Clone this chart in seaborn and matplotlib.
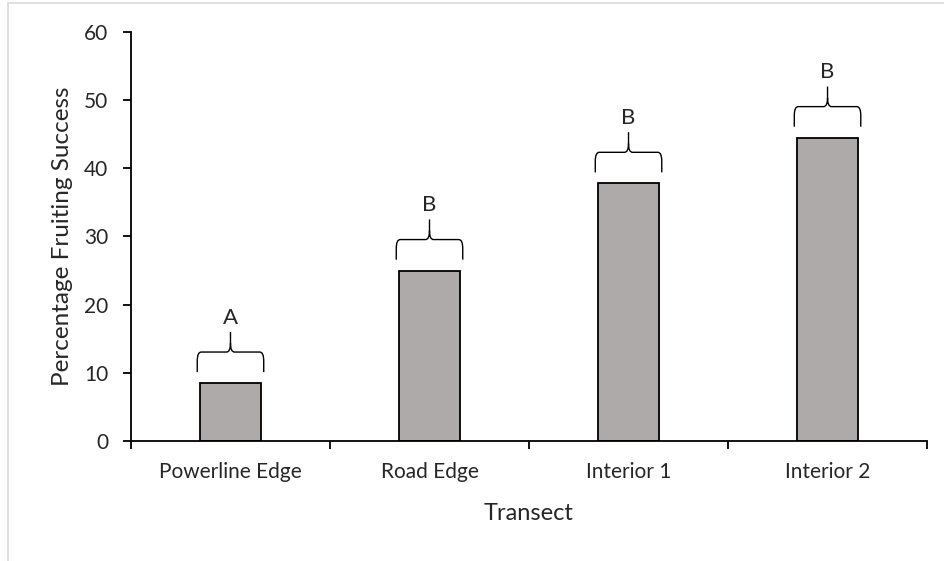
import pandas as pd
import matplotlib.pyplot as plt
import seaborn as sns
from matplotlib.path import Path
from matplotlib.patches import PathPatch, Rectangle

# data
transect = ['Powerline Edge', 'Road Edge', 'Interior 1', 'Interior 2']
success = [8.5, 25.0, 37.8, 44.5]
letters = ['A', 'B', 'B', 'B']

df = pd.DataFrame({'Transect': transect, 'Success': success})

sns.set_style('white')
plt.rcParams['font.family'] = ['Lato', 'DejaVu Sans']

fig = plt.figure(figsize=(9.45, 5.61), dpi=100)
ax = fig.add_axes([0.1386, 0.2139, 0.8424, 0.7291])

# light chart border (top/left visible)
fig.patches.append(Rectangle((8 / 945, -0.1), 1.2, 1.1 - 3 / 561, transform=fig.transFigure,
                             fill=False, edgecolor='#d9d9d9', linewidth=1.2))

sns.barplot(data=df, x='Transect', y='Success', color='#aeaaaa', edgecolor='black',
            linewidth=1.3, width=0.31, saturation=1, ax=ax)

ax.set_xlim(-0.5, 3.5)
ax.set_ylim(0, 60)
ax.set_yticks(range(0, 61, 10))
ax.set_xticks([i - 0.5 for i in range(len(transect) + 1)])
ax.set_xticklabels([])
ax.set_xticks(range(len(transect)), minor=True)
ax.set_xticklabels(transect, minor=True)
ax.tick_params(axis='x', which='major', direction='out', length=6, width=1.3, color='black', bottom=True)
ax.tick_params(axis='x', which='minor', length=0, labelsize=15, pad=15)
ax.tick_params(axis='y', direction='out', length=6, width=1.3, color='black', left=True, labelsize=15, pad=10.5)

for side in ['top', 'right']:
    ax.spines[side].set_visible(False)
for side in ['left', 'bottom']:
    ax.spines[side].set_color('black')
    ax.spines[side].set_linewidth(1.3)

ax.set_xlabel('Transect', fontsize=17, labelpad=15)
ax.set_ylabel('Percentage Fruiting Success', fontsize=17.5, labelpad=8)

# curly braces with significance letters
hw = 0.167
rx, ry = 0.02, 1.3
for i, (v, lab) in enumerate(zip(success, letters)):
    x0, x1, xc = i - hw, i + hw, i
    yb = v + 1.6
    yh = v + 4.55
    yp = v + 7.5
    verts = [(x0, yb), (x0, yh - ry), (x0, yh), (x0 + rx, yh),
             (xc - rx, yh), (xc, yh), (xc, yh + ry), (xc, yp),
             (xc, yh + ry), (xc, yh), (xc + rx, yh),
             (x1 - rx, yh), (x1, yh), (x1, yh - ry), (x1, yb)]
    codes = [Path.MOVETO, Path.LINETO, Path.CURVE3, Path.CURVE3,
             Path.LINETO, Path.CURVE3, Path.CURVE3, Path.LINETO,
             Path.MOVETO, Path.CURVE3, Path.CURVE3,
             Path.LINETO, Path.CURVE3, Path.CURVE3, Path.LINETO]
    ax.add_patch(PathPatch(Path(verts, codes), fill=False, edgecolor='black',
                           linewidth=1.0, clip_on=False))
    ax.text(xc, v + 9.6, lab, ha='center', va='center', fontsize=16, clip_on=False)

fig.savefig('out.png', dpi=100)
